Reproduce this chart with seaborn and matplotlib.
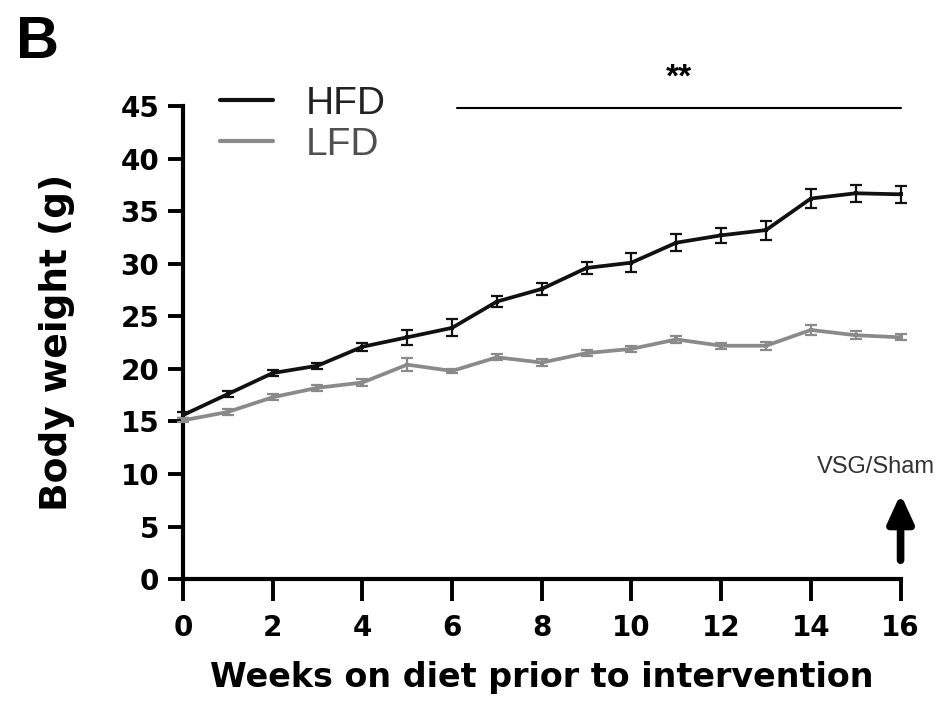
import matplotlib
matplotlib.use("Agg")
import matplotlib.pyplot as plt
import seaborn as sns
import numpy as np
import pandas as pd
from matplotlib.lines import Line2D

weeks = list(range(17))
hfd_mean = [15.6, 17.6, 19.6, 20.3, 22.1, 23.0, 23.9, 26.4, 27.6, 29.6, 30.1, 32.0, 32.7, 33.2, 36.2, 36.7, 36.6]
hfd_sem = [0.3, 0.3, 0.3, 0.3, 0.4, 0.7, 0.8, 0.5, 0.6, 0.6, 0.9, 0.8, 0.7, 0.9, 0.9, 0.8, 0.8]
lfd_mean = [15.1, 15.9, 17.3, 18.2, 18.7, 20.4, 19.8, 21.1, 20.6, 21.5, 21.9, 22.8, 22.2, 22.2, 23.7, 23.2, 23.0]
lfd_sem = [0.2, 0.3, 0.3, 0.3, 0.3, 0.6, 0.2, 0.3, 0.3, 0.3, 0.3, 0.3, 0.3, 0.4, 0.5, 0.4, 0.3]
groups = ["HFD", "LFD"]
colors = {"HFD": "#111111", "LFD": "#8a8a8a"}
x_ticks = [0, 2, 4, 6, 8, 10, 12, 14, 16]
y_ticks = [0, 5, 10, 15, 20, 25, 30, 35, 40, 45]

df = pd.DataFrame({
    "week": weeks * 2,
    "weight": hfd_mean + lfd_mean,
    "sem": hfd_sem + lfd_sem,
    "group": ["HFD"] * 17 + ["LFD"] * 17,
})

sns.set_theme(style="ticks")
plt.rcParams['font.family'] = ['Liberation Sans', 'DejaVu Sans']
plt.rcParams['text.color'] = 'black'
plt.rcParams['axes.labelcolor'] = 'black'
plt.rcParams['xtick.color'] = 'black'
plt.rcParams['ytick.color'] = 'black'

fig = plt.figure(figsize=(9.43, 7.02), dpi=100)
ax = fig.add_axes([0.194, 0.175, 0.761, 0.674])

for g in groups:
    sub = df[df.group == g]
    ax.errorbar(sub.week, sub.weight, yerr=sub["sem"], fmt="none", ecolor=colors[g],
                elinewidth=1.6, capsize=4.5, capthick=1.6, clip_on=False, zorder=3)

sns.lineplot(data=df, x="week", y="weight", hue="group", palette=colors, ax=ax,
             linewidth=2.7, marker="s", markersize=3.5, markeredgewidth=0,
             legend=False, clip_on=False, zorder=4)

ax.set_xlim(0, 16)
ax.set_ylim(0, 45)
ax.set_xticks(x_ticks)
ax.set_yticks(y_ticks)
tick_font = dict(family="DejaVu Sans", size=20, weight="bold")
ax.set_xticklabels([str(t) for t in x_ticks], fontdict=tick_font)
ax.set_yticklabels([str(t) for t in y_ticks], fontdict=tick_font)
ax.tick_params(axis="x", direction="out", length=16, width=2.8, pad=9)
ax.tick_params(axis="y", direction="out", length=11, width=2.8, pad=6)
for s in ["left", "bottom"]:
    ax.spines[s].set_linewidth(3.0)
    ax.spines[s].set_color("black")
sns.despine(ax=ax)

ax.set_xlabel("Weeks on diet prior to intervention", family="DejaVu Sans", fontsize=24,
              fontweight="bold", labelpad=14)
ax.set_ylabel("Body weight (g)", family="DejaVu Sans", fontsize=27, fontweight="bold", labelpad=33)

handles = [Line2D([0], [0], color=colors[g], linewidth=3) for g in groups]
leg = ax.legend(handles, groups, loc="upper left", bbox_to_anchor=(0.03, 1.075), frameon=False,
                prop=dict(family="Liberation Sans", size=28), handlelength=1.35,
                handletextpad=0.85, labelspacing=0.12, borderaxespad=0)
for t, g in zip(leg.get_texts(), groups):
    t.set_color("#222222" if g == "HFD" else "#505050")

# significance bar
ax.plot([6.1, 16], [44.8, 44.8], color="black", linewidth=1.5, clip_on=False)
ax.text(11.05, 47.7, "**", ha="center", va="center", fontsize=24, fontweight="bold")

# intervention arrow
ax.annotate("", xy=(16, 8.1), xytext=(16, 1.8),
            arrowprops=dict(arrowstyle="-|>,head_width=0.55,head_length=1.2", color="black",
                            lw=5.5, mutation_scale=14, shrinkA=0, shrinkB=0))
ax.text(15.45, 10.7, "VSG/Sham", ha="center", va="center", fontsize=17, color="#333333")

fig.text(0.017, 0.978, "B", fontsize=43, fontweight="bold", ha="left", va="top")

fig.savefig("out.png", dpi=100, facecolor="white")
